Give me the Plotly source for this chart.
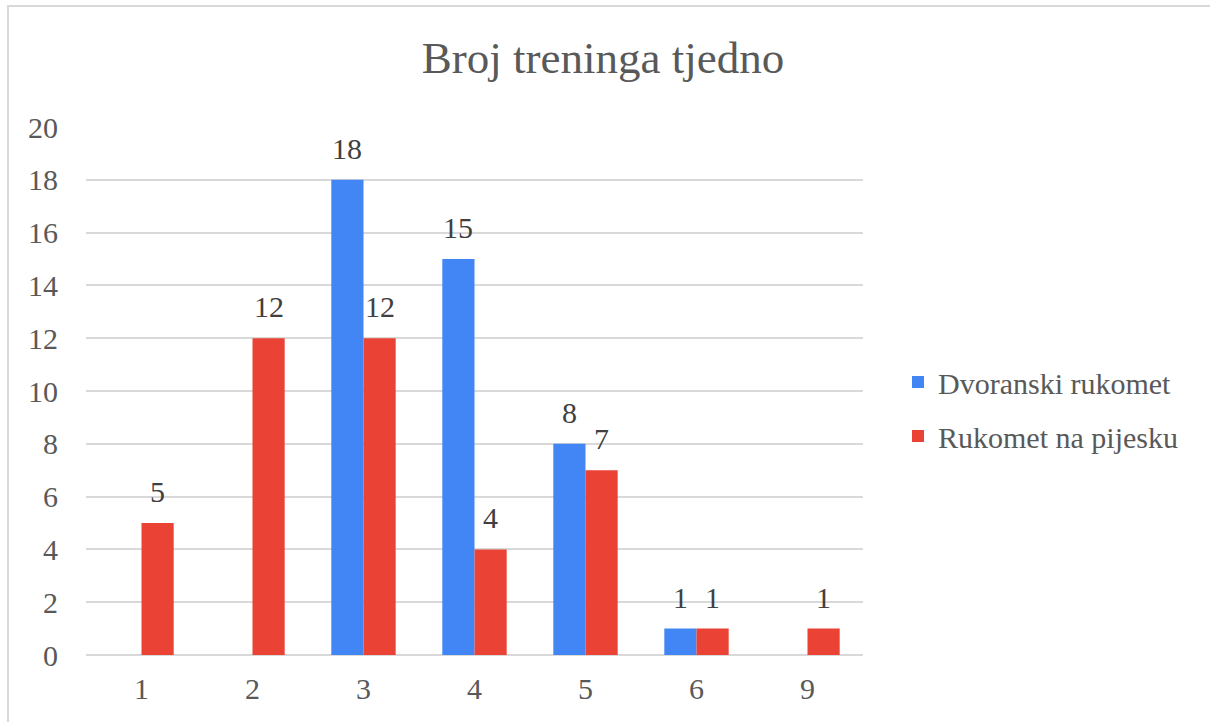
import plotly.graph_objects as go

categories = ["1", "2", "3", "4", "5", "6", "9"]
dvoranski = [0, 0, 18, 15, 8, 1, 0]
pijesak = [5, 12, 12, 4, 7, 1, 1]
y_ticks = [0, 2, 4, 6, 8, 10, 12, 14, 16, 18, 20]

FONT = "Liberation Serif, Times New Roman, serif"
TXT = "#595959"
LBL = "#404040"
FS = 30

L, R, T, B = 86, 1210 - 863, 127, 722 - 655
W, H = 1210 - L - R, 722 - T - B
BARGAP = 0.42


def px_x(p):
    return (p - L) / W


def px_y(p):
    return (722 - B - p) / H


fig = go.Figure()
fig.add_trace(go.Bar(
    x=categories, y=dvoranski, name="Dvoranski rukomet",
    marker=dict(color="#4285F4", line=dict(width=0)), legendgroup="a",
))
fig.add_trace(go.Bar(
    x=categories, y=pijesak, name="Rukomet na pijesku",
    marker=dict(color="#EA4335", line=dict(width=0)), legendgroup="b",
))

# data labels above the bars (x given as category index)
bar_px = W / len(categories) * (1 - BARGAP) / 2
annotations = []
for series, sign in ((dvoranski, -1), (pijesak, 1)):
    for i, v in enumerate(series):
        if v:
            annotations.append(dict(
                x=i, y=v, xref="x", yref="y", text=str(v), showarrow=False,
                xanchor="center", yanchor="bottom", xshift=sign * bar_px / 2, yshift=13,
                font=dict(family=FONT, size=FS, color=LBL)))

fig.update_layout(
    width=1210, height=722,
    margin=dict(l=L, r=R, t=T, b=B, autoexpand=False),
    paper_bgcolor="white", plot_bgcolor="white",
    barmode="group", bargap=BARGAP, bargroupgap=0,
    title=dict(text="Broj treninga tjedno", x=px_x(603), xref="paper", xanchor="center",
               y=1 - 57 / 722, yanchor="middle",
               font=dict(family=FONT, size=45, color=TXT)),
    font=dict(family=FONT, color=TXT),
    xaxis=dict(type="category", categoryorder="array", categoryarray=categories,
               range=[-0.5, len(categories) - 0.5],
               showgrid=False, showline=False, zeroline=False,
               ticks="", tickfont=dict(family=FONT, size=FS, color=TXT),
               ticklabelstandoff=13),
    yaxis=dict(range=[0, 20], tickvals=y_ticks, showgrid=True, gridcolor="#d9d9d9",
               gridwidth=2, zeroline=True, zerolinecolor="#d9d9d9", zerolinewidth=2,
               showline=False, ticks="", tickfont=dict(family=FONT, size=FS, color=TXT),
               ticklabelstandoff=27),
    legend=dict(x=px_x(898), xanchor="left", y=px_y(409), yanchor="middle",
                font=dict(family=FONT, size=FS, color=TXT),
                traceorder="grouped", tracegroupgap=12, bgcolor="rgba(0,0,0,0)"),
    annotations=annotations,
    shapes=[dict(type="rect", xref="paper", yref="paper",
                 x0=px_x(8), x1=px_x(1216), y0=px_y(6), y1=px_y(730),
                 line=dict(color="#d9d9d9", width=2), fillcolor="rgba(0,0,0,0)",
                 layer="below")],
)

fig.write_html("out.html", config={"displayModeBar": False},
               post_script="document.body.style.margin='0';")
